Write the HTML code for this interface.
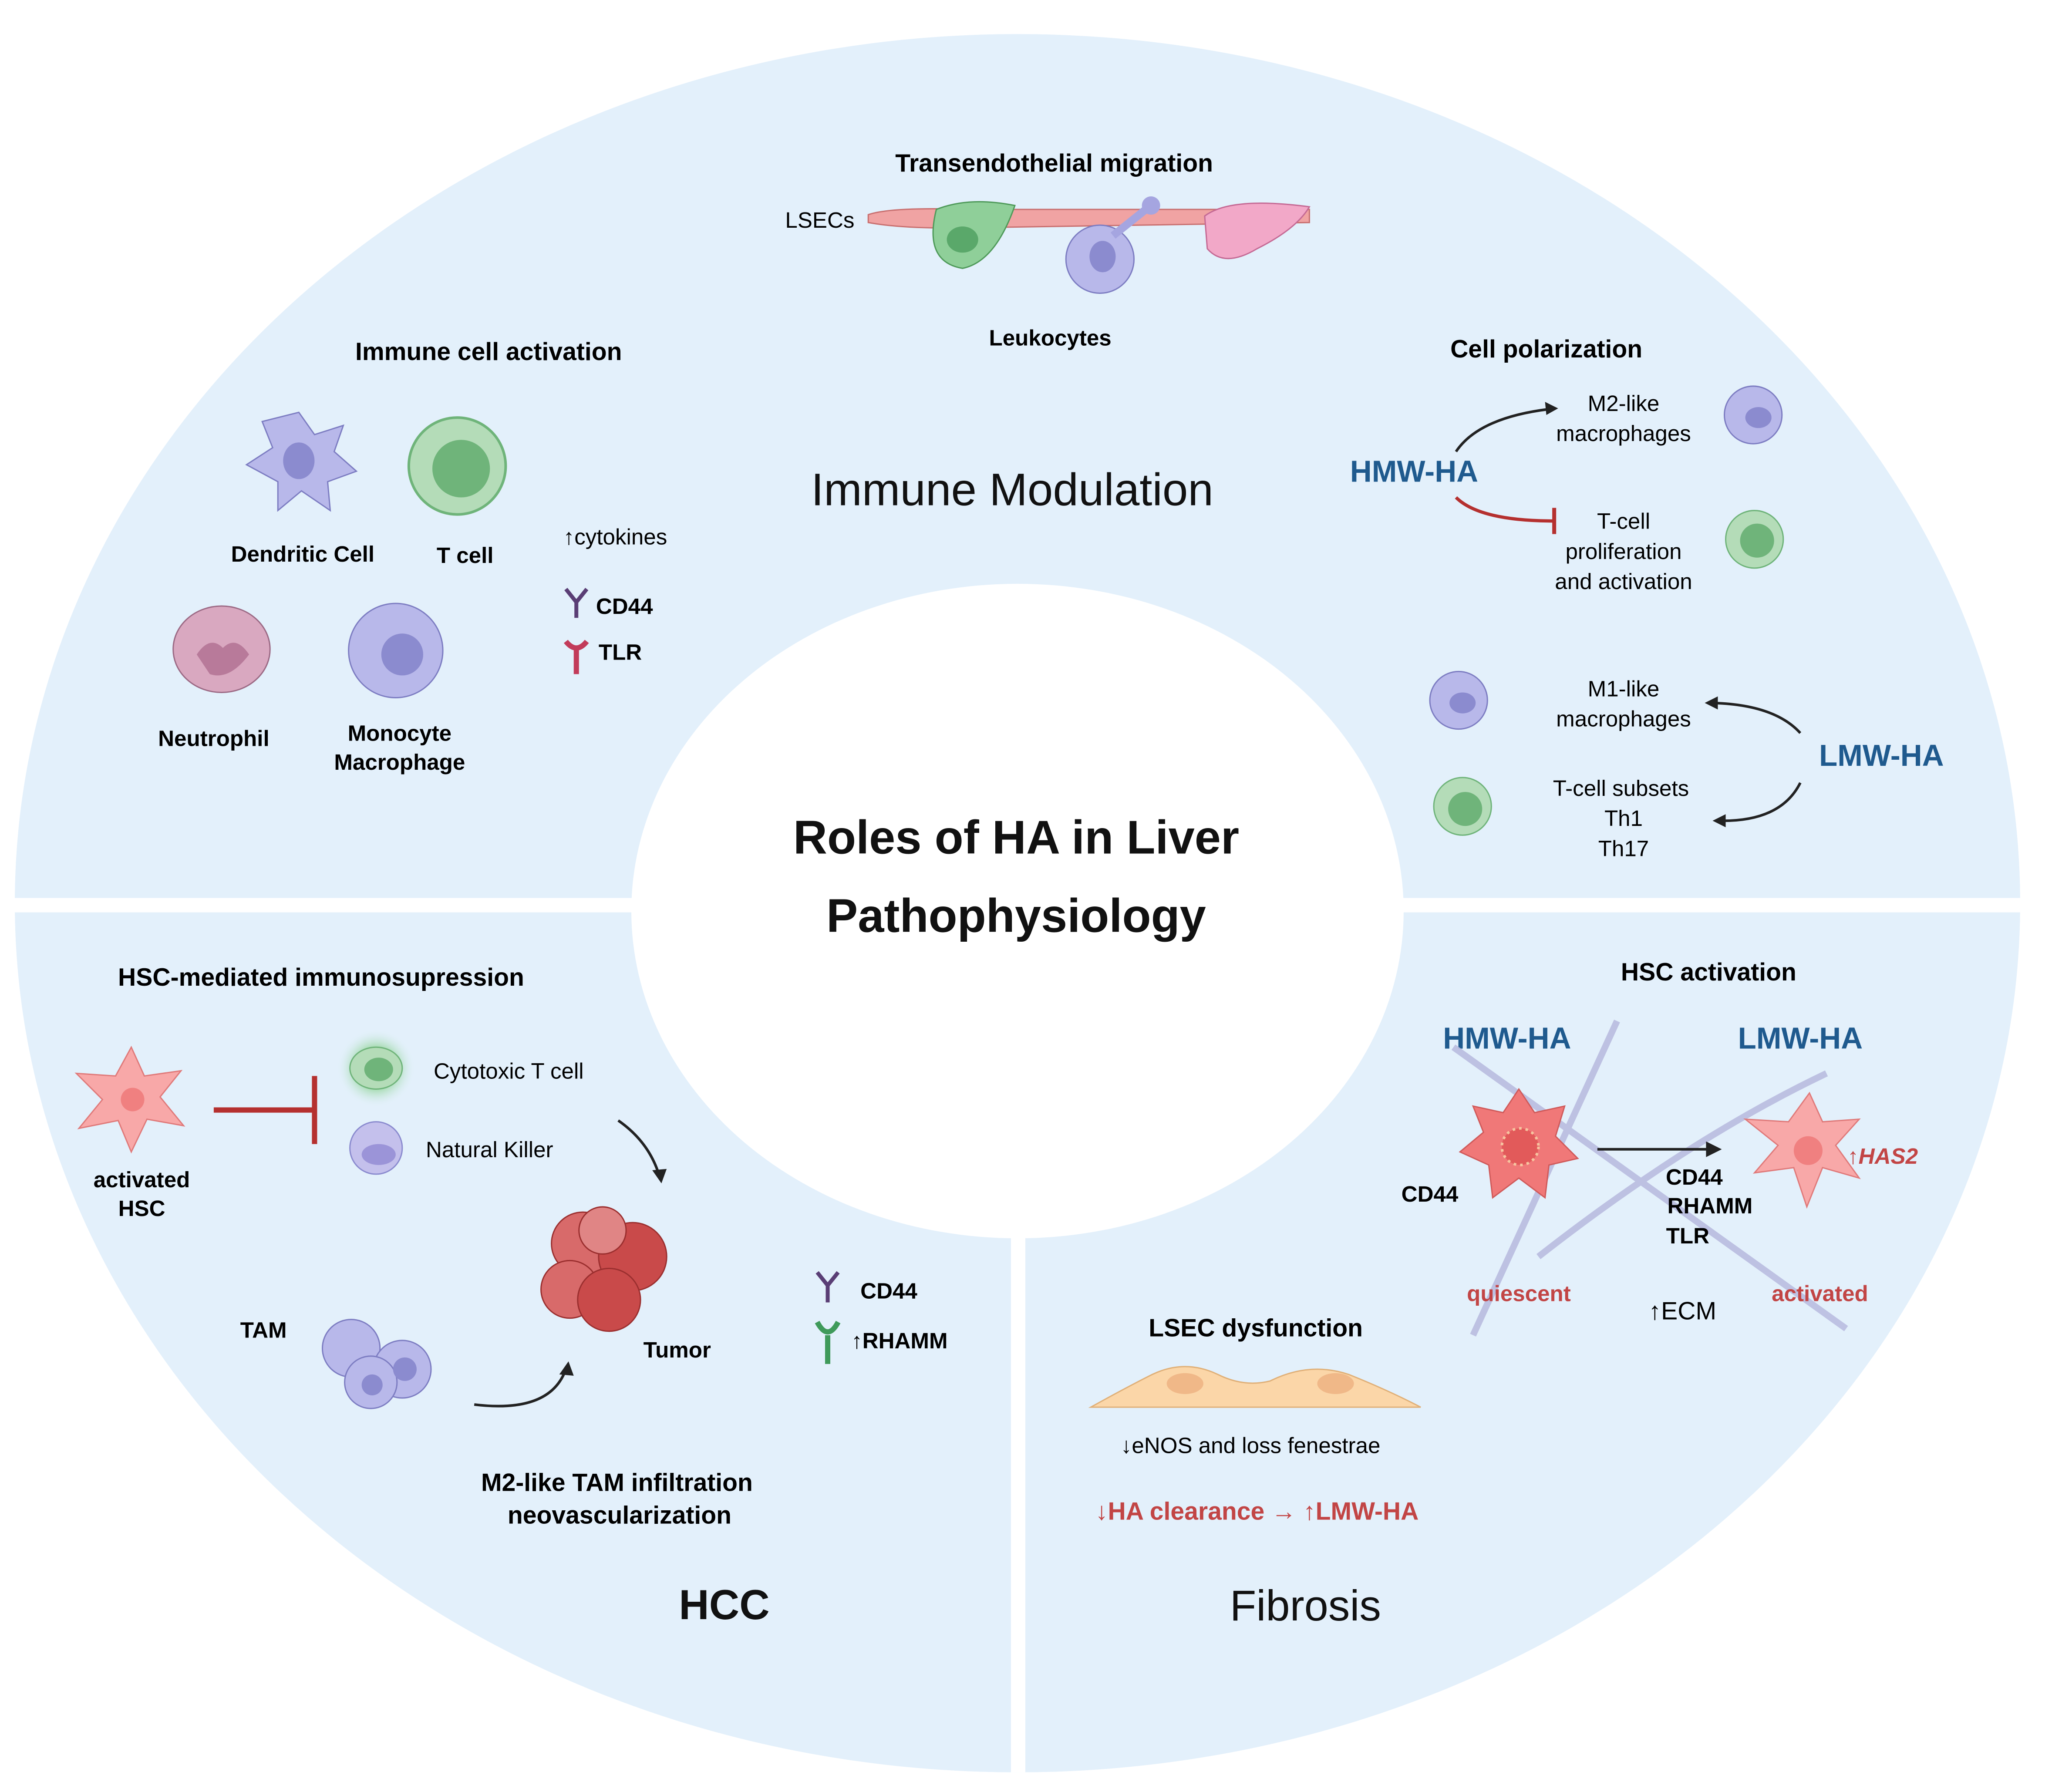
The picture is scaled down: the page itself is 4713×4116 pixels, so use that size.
<!DOCTYPE html>
<html><head><meta charset="utf-8"><style>
html,body{margin:0;padding:0;background:#fff;}
svg{display:block;}
text{font-family:"Liberation Sans",sans-serif;}
</style></head><body>
<svg width="4713" height="4116" viewBox="0 0 1567 1369" xmlns="http://www.w3.org/2000/svg">
<defs>
<clipPath id="c"><ellipse cx="777" cy="690" rx="766" ry="664"/></clipPath>
<radialGradient id="glow"><stop offset="0.5" stop-color="#9fd9a8"/><stop offset="1" stop-color="#e3f0fb" stop-opacity="0"/></radialGradient>
</defs>
<rect width="1567" height="1369" fill="#fff"/>
<g clip-path="url(#c)">
<ellipse cx="777" cy="690" rx="766" ry="664" fill="#e3f0fb"/>
<rect x="0" y="686" width="1567" height="11" fill="#fff"/>
<rect x="772" y="697" width="11" height="700" fill="#fff"/>
</g>
<ellipse cx="777" cy="696" rx="295" ry="250" fill="#fff"/>

<text x="776" y="652" font-size="36" font-weight="bold" text-anchor="middle" fill="#111">Roles of HA in Liver</text>
<text x="776" y="712" font-size="36" font-weight="bold" text-anchor="middle" fill="#111">Pathophysiology</text>
<text x="773" y="386" font-size="35" text-anchor="middle" fill="#111">Immune Modulation</text>
<text x="553" y="1237" font-size="32" font-weight="bold" text-anchor="middle" fill="#111">HCC</text>
<text x="997" y="1238" font-size="33" text-anchor="middle" fill="#111">Fibrosis</text>

<text x="805" y="131" font-size="19" font-weight="bold" text-anchor="middle">Transendothelial migration</text>
<text x="626" y="174" font-size="17" text-anchor="middle">LSECs</text>
<path d="M663 164 Q680 158 740 160 L1000 160 L1000 170 L740 174 Q690 175 663 170Z" fill="#f0a3a3" stroke="#c97070"/>
<path d="M715 160 Q740 150 775 157 Q760 200 735 205 Q705 200 715 160Z" fill="#8fcf99" stroke="#4f9a5a"/>
<ellipse cx="735" cy="183" rx="12" ry="10" fill="#5aa86a"/>
<circle cx="840" cy="198" r="26" fill="#b8b8ea" stroke="#7d7dc2"/>
<ellipse cx="842" cy="196" rx="10" ry="12" fill="#8b8bcf"/>
<path d="M850 180 L875 160" stroke="#a5a5e0" stroke-width="6"/>
<circle cx="879" cy="157" r="7" fill="#a5a5e0"/>
<path d="M920 165 Q940 150 1000 158 Q990 175 960 190 Q935 205 922 190Z" fill="#f2a8c8" stroke="#c56a95"/>
<text x="802" y="264" font-size="17" font-weight="bold" text-anchor="middle">Leukocytes</text>

<text x="373" y="275" font-size="19" font-weight="bold" text-anchor="middle">Immune cell activation</text>
<path d="M228 315 L240 332 L262 325 L255 345 L272 360 L250 368 L252 390 L230 375 L212 390 L212 368 L188 355 L208 342 L200 322 Z" fill="#b8b8ea" stroke="#7d7dc2"/>
<ellipse cx="228" cy="352" rx="12" ry="14" fill="#8b8bcf"/>
<circle cx="349" cy="356" r="37" fill="#b4dcb8" stroke="#6fb47a" stroke-width="2"/>
<circle cx="352" cy="358" r="22" fill="#6fb47a"/>
<text x="231" y="429" font-size="17" font-weight="bold" text-anchor="middle">Dendritic Cell</text>
<text x="355" y="430" font-size="17" font-weight="bold" text-anchor="middle">T cell</text>
<ellipse cx="169" cy="496" rx="37" ry="33" fill="#d9a8c0" stroke="#9c6a85"/>
<path d="M150 500 Q160 485 170 495 Q180 485 190 500 Q175 520 160 515Z" fill="#b87a9a"/>
<circle cx="302" cy="497" r="36" fill="#b8b8ea" stroke="#7d7dc2"/>
<circle cx="307" cy="500" r="16" fill="#8b8bcf"/>
<text x="163" y="570" font-size="17" font-weight="bold" text-anchor="middle">Neutrophil</text>
<text x="305" y="566" font-size="17" font-weight="bold" text-anchor="middle">Monocyte</text>
<text x="305" y="588" font-size="17" font-weight="bold" text-anchor="middle">Macrophage</text>
<text x="430" y="416" font-size="17">↑cytokines</text>
<path d="M432 450 L440 460 L448 450 M440 460 L440 472" stroke="#5a3e75" stroke-width="3" fill="none"/>
<text x="455" y="469" font-size="17" font-weight="bold">CD44</text>
<path d="M432 490 Q440 500 448 490 M440 496 L440 515" stroke="#c23b5a" stroke-width="4" fill="none"/>
<text x="457" y="504" font-size="17" font-weight="bold">TLR</text>

<text x="1181" y="273" font-size="19" font-weight="bold" text-anchor="middle">Cell polarization</text>
<text x="1080" y="368" font-size="23" font-weight="bold" fill="#1f5a8e" text-anchor="middle">HMW-HA</text>
<path d="M1112 345 Q1130 318 1188 312" stroke="#222" stroke-width="2" fill="none"/>
<path d="M1190 312 L1180 307 L1181 317Z" fill="#222"/>
<path d="M1112 380 Q1130 398 1187 398" stroke="#b5302f" stroke-width="2.5" fill="none"/>
<line x1="1187" y1="388" x2="1187" y2="408" stroke="#b5302f" stroke-width="3"/>
<text x="1240" y="314" font-size="17" text-anchor="middle">M2-like</text>
<text x="1240" y="337" font-size="17" text-anchor="middle">macrophages</text>
<circle cx="1339" cy="317" r="22" fill="#b8b8ea" stroke="#7d7dc2"/>
<ellipse cx="1343" cy="319" rx="10" ry="8" fill="#8b8bcf"/>
<text x="1240" y="404" font-size="17" text-anchor="middle">T-cell</text>
<text x="1240" y="427" font-size="17" text-anchor="middle">proliferation</text>
<text x="1240" y="450" font-size="17" text-anchor="middle">and activation</text>
<circle cx="1340" cy="412" r="22" fill="#b4dcb8" stroke="#6fb47a"/>
<circle cx="1342" cy="413" r="13" fill="#6fb47a"/>
<circle cx="1114" cy="535" r="22" fill="#b8b8ea" stroke="#7d7dc2"/>
<ellipse cx="1117" cy="537" rx="10" ry="8" fill="#8b8bcf"/>
<text x="1240" y="532" font-size="17" text-anchor="middle">M1-like</text>
<text x="1240" y="555" font-size="17" text-anchor="middle">macrophages</text>
<text x="1437" y="585" font-size="23" font-weight="bold" fill="#1f5a8e" text-anchor="middle">LMW-HA</text>
<path d="M1375 560 Q1355 538 1307 537" stroke="#222" stroke-width="2" fill="none"/>
<path d="M1302 537 L1312 532 L1312 542Z" fill="#222"/>
<path d="M1375 598 Q1360 628 1313 627" stroke="#222" stroke-width="2" fill="none"/>
<path d="M1308 627 L1318 622 L1318 632Z" fill="#222"/>
<circle cx="1117" cy="616" r="22" fill="#b4dcb8" stroke="#6fb47a"/>
<circle cx="1119" cy="618" r="13" fill="#6fb47a"/>
<text x="1238" y="608" font-size="17" text-anchor="middle">T-cell subsets</text>
<text x="1240" y="631" font-size="17" text-anchor="middle">Th1</text>
<text x="1240" y="654" font-size="17" text-anchor="middle">Th17</text>

<text x="245" y="753" font-size="19" font-weight="bold" text-anchor="middle">HSC-mediated immunosupression</text>
<path d="M100 800 L110 822 L138 818 L122 838 L140 860 L112 855 L100 880 L90 856 L60 862 L78 840 L58 820 L88 822Z" fill="#f8a8a8" stroke="#e07a7a"/>
<circle cx="101" cy="840" r="9" fill="#f08080"/>
<text x="108" y="907" font-size="17" font-weight="bold" text-anchor="middle">activated</text>
<text x="108" y="929" font-size="17" font-weight="bold" text-anchor="middle">HSC</text>
<line x1="163" y1="848" x2="240" y2="848" stroke="#b5302f" stroke-width="4"/>
<line x1="240" y1="822" x2="240" y2="874" stroke="#b5302f" stroke-width="4"/>
<circle cx="287" cy="816" r="30" fill="url(#glow)"/>
<ellipse cx="287" cy="816" rx="20" ry="16" fill="#b4dcb8" stroke="#6fb47a"/>
<ellipse cx="289" cy="817" rx="11" ry="9" fill="#6fb47a"/>
<text x="331" y="824" font-size="17">Cytotoxic T cell</text>
<circle cx="287" cy="877" r="20" fill="#c4c0ec" stroke="#8b8bcf"/>
<ellipse cx="289" cy="882" rx="13" ry="8" fill="#9b94d8"/>
<text x="325" y="884" font-size="17">Natural Killer</text>
<path d="M472 856 Q495 872 503 897" stroke="#222" stroke-width="2" fill="none"/>
<path d="M505 904 L498 894 L509 893Z" fill="#222"/>
<g fill="#c94a4a" stroke="#9b2f2f">
<circle cx="445" cy="950" r="24" fill="#d86a6a"/>
<circle cx="483" cy="960" r="26"/>
<circle cx="435" cy="985" r="22" fill="#d86a6a"/>
<circle cx="465" cy="993" r="24"/>
<circle cx="460" cy="940" r="18" fill="#e08585"/>
</g>
<text x="517" y="1037" font-size="17" font-weight="bold" text-anchor="middle">Tumor</text>
<text x="201" y="1022" font-size="17" font-weight="bold" text-anchor="middle">TAM</text>
<circle cx="268" cy="1030" r="22" fill="#b8b8ea" stroke="#7d7dc2"/>
<circle cx="307" cy="1046" r="22" fill="#b8b8ea" stroke="#7d7dc2"/>
<circle cx="283" cy="1056" r="20" fill="#b8b8ea" stroke="#7d7dc2"/>
<circle cx="284" cy="1058" r="8" fill="#8b8bcf"/>
<circle cx="309" cy="1046" r="9" fill="#8b8bcf"/>
<path d="M362 1073 Q420 1080 432 1046" stroke="#222" stroke-width="2" fill="none"/>
<path d="M434 1040 L427 1050 L438 1051Z" fill="#222"/>
<path d="M624 972 L632 982 L640 972 M632 982 L632 995" stroke="#5a3e75" stroke-width="3" fill="none"/>
<text x="657" y="992" font-size="17" font-weight="bold">CD44</text>
<path d="M624 1010 Q632 1025 640 1010 M632 1020 L632 1042" stroke="#3f9a5a" stroke-width="4" fill="none"/>
<text x="650" y="1030" font-size="17" font-weight="bold">↑RHAMM</text>
<text x="471" y="1139" font-size="19" font-weight="bold" text-anchor="middle">M2-like TAM infiltration</text>
<text x="473" y="1164" font-size="19" font-weight="bold" text-anchor="middle">neovascularization</text>

<text x="1305" y="749" font-size="19" font-weight="bold" text-anchor="middle">HSC activation</text>
<text x="1151" y="801" font-size="23" font-weight="bold" fill="#1f5a8e" text-anchor="middle">HMW-HA</text>
<text x="1375" y="801" font-size="23" font-weight="bold" fill="#1f5a8e" text-anchor="middle">LMW-HA</text>
<g stroke="#b9bde0" stroke-width="5" fill="none" opacity="0.9">
<path d="M1235 780 Q1180 900 1125 1020"/>
<path d="M1110 800 Q1250 900 1410 1015"/>
<path d="M1175 960 Q1290 870 1395 820"/>
</g>
<path d="M1160 832 L1172 850 L1195 845 L1188 868 L1205 885 L1183 890 L1180 915 L1160 900 L1140 915 L1137 890 L1115 880 L1133 865 L1125 845 L1148 850Z" fill="#f07878" stroke="#d05a5a"/>
<circle cx="1161" cy="876" r="14" fill="#e25a5a" stroke="#f6c5a0" stroke-dasharray="2 3" stroke-width="2"/>
<text x="1092" y="918" font-size="17" font-weight="bold" text-anchor="middle">CD44</text>
<line x1="1220" y1="878" x2="1305" y2="878" stroke="#222" stroke-width="2"/>
<path d="M1315 878 L1303 872 L1303 884Z" fill="#222"/>
<path d="M1382 835 L1392 857 L1420 855 L1402 875 L1420 900 L1392 892 L1380 922 L1370 892 L1340 896 L1358 875 L1333 855 L1366 857Z" fill="#f8a8a8" stroke="#e07a7a"/>
<circle cx="1381" cy="879" r="11" fill="#f08080"/>
<text x="1411" y="889" font-size="17" font-style="italic" font-weight="bold" fill="#c24545">↑HAS2</text>
<text x="1294" y="905" font-size="17" font-weight="bold" text-anchor="middle">CD44</text>
<text x="1306" y="927" font-size="17" font-weight="bold" text-anchor="middle">RHAMM</text>
<text x="1289" y="950" font-size="17" font-weight="bold" text-anchor="middle">TLR</text>
<text x="1160" y="994" font-size="17" font-weight="bold" fill="#c24545" text-anchor="middle">quiescent</text>
<text x="1285" y="1008" font-size="19" text-anchor="middle">↑ECM</text>
<text x="1390" y="994" font-size="17" font-weight="bold" fill="#c24545" text-anchor="middle">activated</text>
<text x="959" y="1021" font-size="19" font-weight="bold" text-anchor="middle">LSEC dysfunction</text>
<path d="M833 1075 Q860 1060 880 1050 Q905 1038 930 1050 Q950 1060 970 1055 Q1000 1040 1030 1050 Q1060 1062 1085 1075Z" fill="#fbd6a8" stroke="#e0b078"/>
<ellipse cx="905" cy="1057" rx="14" ry="8" fill="#f0b888"/>
<ellipse cx="1020" cy="1057" rx="14" ry="8" fill="#f0b888"/>
<text x="955" y="1110" font-size="17" text-anchor="middle">↓eNOS and loss fenestrae</text>
<text x="960" y="1161" font-size="19" font-weight="bold" fill="#c24545" text-anchor="middle">↓HA clearance → ↑LMW-HA</text>
</svg>
</body></html>
